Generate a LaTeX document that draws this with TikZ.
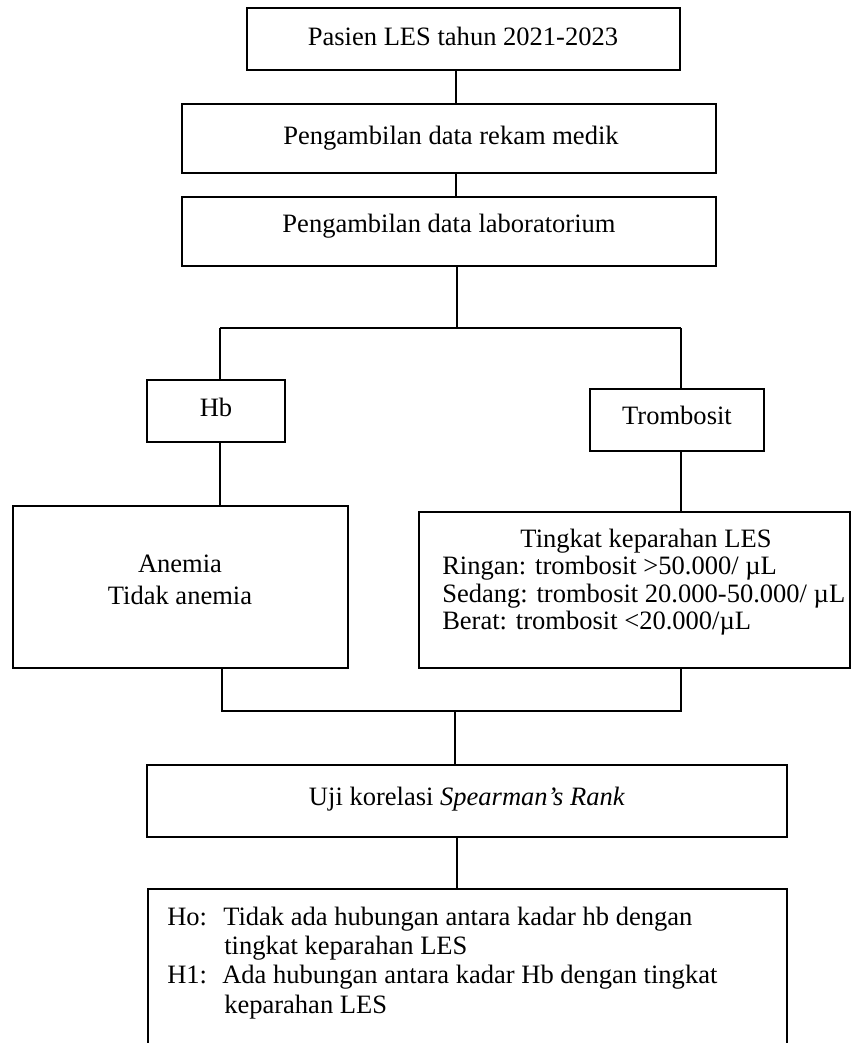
\documentclass[tikz,border=0pt]{standalone}
\usepackage{fontspec}
\setmainfont{Liberation Serif}
\usetikzlibrary{fit}
\tikzset{
  box/.style={draw=black, line width=1.2pt, inner sep=0pt, rectangle},
  txt/.style={inner sep=0pt, anchor=base, font=\fontsize{19.9}{24}\selectfont},
  txtl/.style={txt, anchor=base west},
  conn/.style={draw=black, line width=1.2pt}
}
\begin{document}
\begin{tikzpicture}[x=0.75pt, y=-0.75pt]
\useasboundingbox[fill=white] (0,0) rectangle (861,1043);
% boxes
\node[box, fit={(247,8) (680,70)}] (b1) {};
\node[box, fit={(182,104) (716,173)}] (b2) {};
\node[box, fit={(182,197) (716,266)}] (b3) {};
\node[box, fit={(147,380) (285,442)}] (hb) {};
\node[box, fit={(590,389) (764,451)}] (tr) {};
\node[box, fit={(13,506) (348,668)}] (an) {};
\node[box, fit={(419,512) (850,668)}] (tk) {};
\node[box, fit={(147,765) (787,837)}] (uji) {};
\node[box, fit={(148,889) (787,1060)}] (hy) {};
% texts
\node[txt] (t1) at (463,45) {Pasien LES tahun 2021-2023};
\node[txt] (t2) at (451,144) {Pengambilan data rekam medik};
\node[txt] (t3) at (449,232) {Pengambilan data laboratorium};
\node[txt] (thb) at (216,416) {Hb};
\node[txt] (ttr) at (677,424) {Trombosit};
\node[txt] (ta1) at (180,572) {Anemia};
\node[txt] (ta2) at (180,604) {Tidak anemia};
\node[txt] (tk1) at (646,547) {Tingkat keparahan LES};
\node[txtl] (tk2) at (442,574) {Ringan: trombosit >50.000/ µL};
\node[txtl] (tk3) at (442,602) {Sedang: trombosit 20.000-50.000/ µL};
\node[txtl] (tk4) at (442,629) {Berat: trombosit <20.000/µL};
\node[txt] (tu) at (467,805) {Uji korelasi \textit{Spearman’s Rank}};
\node[txtl] (h0a) at (167,925) {Ho:};
\node[txtl] (h0b) at (223,925) {Tidak ada hubungan antara kadar hb dengan};
\node[txtl] (h0c) at (224,954) {tingkat keparahan LES};
\node[txtl] (h1a) at (167,983) {H1:};
\node[txtl] (h1b) at (222,983) {Ada hubungan antara kadar Hb dengan tingkat};
\node[txtl] (h1c) at (224,1013) {keparahan LES};
% junction coordinates
\coordinate (cx) at (456,0);
\coordinate (jm) at (457,328);
\coordinate (jl) at (220,328);
\coordinate (jr) at (681,328);
\coordinate (kl) at (222,711);
\coordinate (kr) at (681,711);
\coordinate (km) at (455,711);
% connectors
\draw[conn] (b1.south -| cx) -- (b2.north -| cx);
\draw[conn] (b2.south -| cx) -- (b3.north -| cx);
\draw[conn] (b3.south -| jm) -- (jm);
\draw[conn] (jl) -- (jr);
\draw[conn] (jl) -- (hb.north -| jl);
\draw[conn] (jr) -- (tr.north -| jr);
\draw[conn] (hb.south -| jl) -- (an.north -| jl);
\draw[conn] (tr.south -| jr) -- (tk.north -| jr);
\draw[conn] (an.south -| kl) -- (kl) -- (kr) -- (tk.south -| kr);
\draw[conn] (km) -- (uji.north -| km);
\draw[conn] (uji.south -| jm) -- (hy.north -| jm);
\end{tikzpicture}
\end{document}
